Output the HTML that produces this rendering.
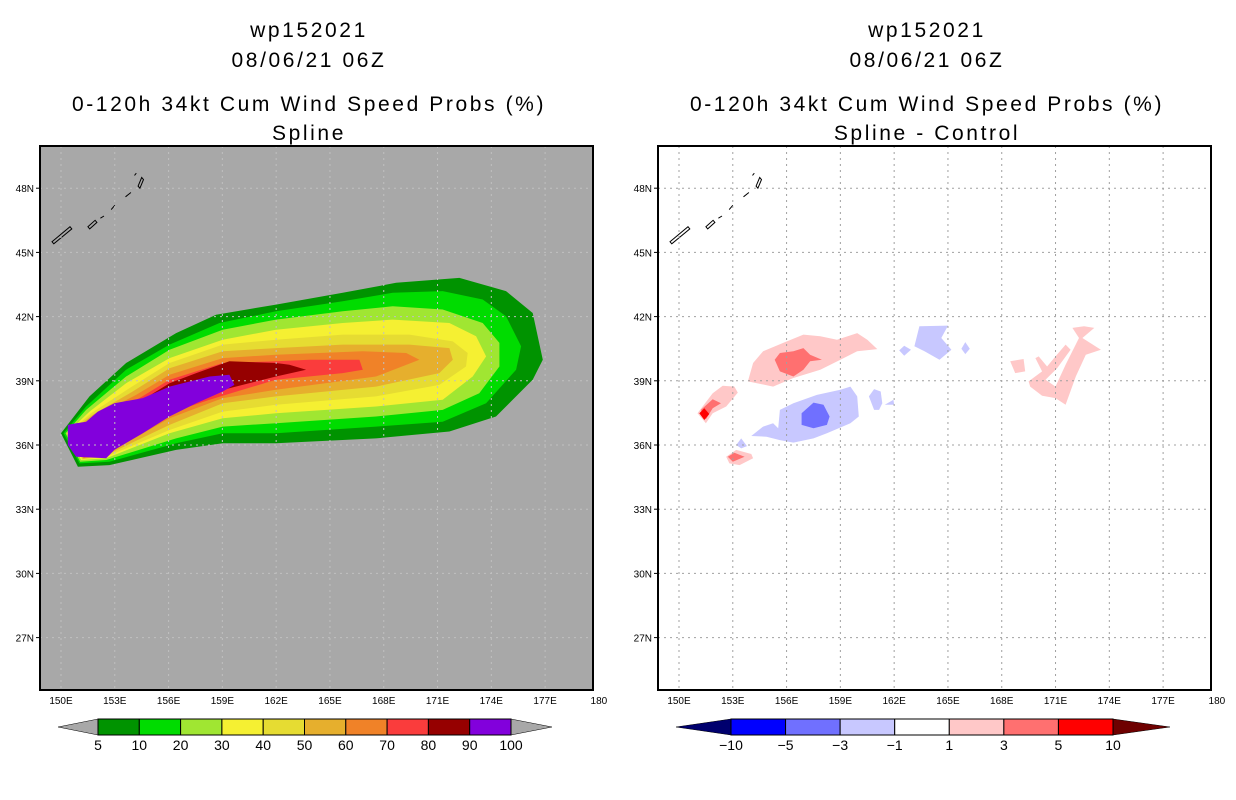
<!DOCTYPE html>
<html><head><meta charset="utf-8"><style>
html,body{margin:0;padding:0;background:#fff;}
svg{display:block;font-family:"Liberation Sans",sans-serif;}
.t{font-size:21px;letter-spacing:2.6px;fill:#000;text-anchor:middle;}
.tk{font-size:10px;fill:#000;}
.cb{font-size:14px;fill:#000;text-anchor:middle;}
</style></head><body>
<svg id="s" width="1236" height="800" viewBox="0 0 1236 800">
<g>
<text class="t" x="309" y="37">wp152021</text>
<text class="t" x="309" y="67">08/06/21 06Z</text>
<text class="t" x="309" y="111">0-120h 34kt Cum Wind Speed Probs (%)</text>
<text class="t" x="309" y="140">Spline</text>
</g>
<g>
<text class="t" x="927" y="37">wp152021</text>
<text class="t" x="927" y="67">08/06/21 06Z</text>
<text class="t" x="927" y="111">0-120h 34kt Cum Wind Speed Probs (%)</text>
<text class="t" x="927" y="140">Spline - Control</text>
</g>
<g id="L"></g>
<g id="R"></g>
<g id="CB"></g>
</svg>
<script>
// axis ticks
const lonTicks=[150,153,156,159,162,165,168,171,174,177,180];
const lonLabels=["150E","153E","156E","159E","162E","165E","168E","171E","174E","177E","180"];
const latTicks=[27,30,33,36,39,42,45,48];
const latLabels=["27N","30N","33N","36N","39N","42N","45N","48N"];
// probability band levels and colors
const probLevels=[5,10,20,30,40,50,60,70,80,90,100];
const probColors=["#009300","#00dc00","#a0e632","#f5f032","#e6dc32","#e6af2d","#f08228","#fa3c3c","#960000","#8200dc"];
// contour polygons [lon,lat] for each probability band (>=5, >=10, ... >=90)
const band5=[[150.0,36.55],[150.94,34.98],[152.7,35.06],[156.42,35.77],[159.02,36.08],[161.99,36.08],[167.57,36.31],[171.66,36.63],[174.26,37.33],[176.31,39.05],[176.87,39.98],[176.31,42.17],[174.82,43.19],[172.22,43.81],[168.69,43.58],[165.71,43.11],[161.99,42.56],[158.65,42.09],[156.42,41.23],[153.63,39.83],[151.59,38.27]];
const band10=[[150.14,36.55],[151.03,35.14],[152.7,35.22],[156.42,36.08],[159.02,36.55],[161.99,36.55],[167.57,36.86],[171.29,37.09],[173.71,37.95],[175.38,39.52],[175.66,40.61],[174.82,42.02],[173.52,42.8],[171.29,43.19],[168.5,43.11],[165.71,42.72],[161.99,42.25],[158.84,41.7],[156.05,40.69],[153.63,39.52],[151.4,37.8]];
const band20=[[150.25,36.55],[151.07,35.22],[152.52,35.3],[156.42,36.31],[159.02,36.86],[161.99,37.02],[167.57,37.33],[171.29,37.64],[173.33,38.42],[174.45,39.67],[174.45,40.77],[173.52,41.7],[171.29,42.33],[168.5,42.48],[165.71,42.25],[161.99,41.86],[159.02,41.39],[156.05,40.45],[153.63,39.2],[151.4,37.64]];
const band30=[[150.32,36.55],[151.12,35.3],[152.52,35.38],[156.05,36.55],[159.02,37.25],[161.99,37.48],[167.57,37.8],[171.29,38.11],[172.96,39.2],[173.71,40.14],[173.15,41.08],[171.66,41.7],[168.5,41.86],[165.71,41.7],[161.99,41.39],[159.02,40.92],[156.05,40.06],[153.63,38.89],[151.59,37.56]];
const band40=[[150.38,36.55],[151.18,35.33],[152.52,35.45],[156.05,36.7],[159.02,37.56],[161.99,37.88],[167.57,38.27],[171.1,38.81],[172.59,39.67],[172.68,40.3],[171.85,40.84],[169.43,41.16],[165.71,41.16],[161.99,40.92],[159.02,40.69],[156.05,39.83],[153.82,38.66],[151.68,37.48]];
const band50=[[150.43,36.55],[151.22,35.36],[152.52,35.53],[156.05,36.94],[159.02,37.95],[161.99,38.27],[167.57,38.73],[171.1,39.36],[171.85,39.98],[171.66,40.53],[169.43,40.69],[165.71,40.69],[161.99,40.53],[159.02,40.38],[156.05,39.59],[154.0,38.5],[151.77,37.41]];
const band60=[[150.47,36.55],[151.25,35.39],[152.61,35.61],[156.05,37.25],[159.02,38.19],[161.99,38.58],[167.57,39.2],[169.99,39.98],[169.25,40.3],[166.83,40.38],[161.99,40.22],[159.02,40.06],[156.05,39.28],[154.19,38.34],[151.87,37.33]];
const band70=[[150.5,36.55],[151.29,35.42],[152.7,35.69],[156.05,37.48],[158.28,38.11],[161.99,39.05],[165.71,39.36],[166.83,39.52],[166.64,39.98],[163.86,39.98],[161.99,39.91],[159.02,39.83],[156.05,39.05],[154.38,38.19],[151.96,37.25]];
const band80=[[150.57,36.55],[151.35,35.45],[152.8,35.77],[156.05,37.8],[158.28,38.42],[161.99,39.2],[163.67,39.52],[162.74,39.75],[161.99,39.83],[159.39,39.91],[157.54,39.36],[156.05,38.89],[154.56,38.11],[152.05,37.17]];
const band90=[[150.38,36.94],[150.38,36.0],[150.84,35.45],[152.52,35.38],[152.98,35.77],[154.56,36.55],[156.05,37.33],[157.54,37.95],[159.02,38.5],[159.67,38.81],[159.39,39.28],[158.28,39.2],[156.05,38.73],[154.56,38.19],[152.98,37.95],[152.05,37.56],[151.4,37.09],[150.84,37.02]];
const probBands=[band5,band10,band20,band30,band40,band50,band60,band70,band80,band90];
// difference (Spline - Control) blobs: [class, polygon]
const diffLevels=[-10,-5,-3,-1,1,3,5,10];
const diffColors=["#0000ff","#7070ff","#c8c8ff","#ffffff","#ffc8c8","#ff7070","#ff0000"];
const diffBlobs=[
 [4,[[153.84,38.97],[154.13,39.83],[154.69,40.38],[155.81,40.77],[156.94,41.16],[157.88,41.08],[158.81,40.92],[159.94,41.23],[160.5,40.92],[161.06,40.48],[159.94,40.38],[159.0,39.98],[157.88,39.52],[156.38,39.13],[155.25,38.73]]],
 [5,[[155.34,39.98],[155.63,40.3],[156.38,40.38],[156.94,40.53],[157.31,40.22],[157.97,39.98],[157.31,39.91],[156.94,39.52],[156.38,39.2],[155.63,39.44]]],
 [2,[[154.03,36.42],[154.69,36.86],[155.25,37.02],[155.53,36.78],[155.63,37.64],[156.38,37.95],[157.69,38.34],[159.0,38.58],[159.56,38.73],[159.94,38.27],[160.03,37.33],[159.56,37.02],[158.25,36.55],[157.5,36.31],[156.38,36.11],[155.63,36.23],[154.88,36.39]]],
 [1,[[156.84,37.48],[157.5,37.98],[158.06,37.88],[158.4,37.33],[158.25,36.94],[157.5,36.78],[156.84,36.94]]],
 [4,[[151.03,37.48],[151.88,38.42],[152.44,38.77],[153.09,38.73],[153.28,38.45],[152.63,37.8],[151.88,37.48],[151.5,37.02]]],
 [5,[[151.22,37.64],[151.88,38.14],[152.34,37.95],[151.88,37.72],[151.5,37.2]]],
 [6,[[151.13,37.48],[151.41,37.72],[151.69,37.45],[151.41,37.17]]],
 [4,[[152.63,35.45],[153.19,35.77],[154.03,35.58],[154.13,35.38],[153.38,35.06],[152.81,35.14]]],
 [5,[[152.72,35.45],[153.09,35.64],[153.66,35.45],[153.0,35.22]]],
 [2,[[153.19,36.0],[153.47,36.31],[153.79,35.95],[153.47,35.84]]],
 [2,[[163.13,40.61],[163.41,41.55],[165.0,41.58],[164.63,41.0],[165.19,40.45],[164.53,39.98],[163.69,40.38]]],
 [2,[[162.28,40.42],[162.56,40.64],[162.94,40.45],[162.56,40.17]]],
 [2,[[165.75,40.5],[165.97,40.81],[166.22,40.5],[165.97,40.25]]],
 [2,[[160.59,38.27],[160.88,38.61],[161.25,38.5],[161.34,37.95],[161.16,37.64],[160.88,37.64]]],
 [2,[[161.48,37.88],[161.96,38.11],[162.0,37.88]]],
 [4,[[168.47,39.91],[169.22,40.02],[169.31,39.44],[168.75,39.36]]],
 [4,[[169.5,38.97],[170.25,39.44],[169.88,40.06],[170.06,40.14],[170.53,39.67],[171.0,40.14],[171.56,40.69],[171.84,40.45],[171.09,39.59],[170.44,39.05],[171.0,38.73],[171.56,39.75],[172.31,41.0],[171.94,41.47],[172.59,41.55],[173.16,41.47],[172.5,41.0],[173.53,40.45],[172.69,40.22],[172.13,39.2],[171.56,37.88],[171.0,38.19],[170.25,38.3],[169.59,38.73]]]
];
const NS='http://www.w3.org/2000/svg';
function mk(tag,attrs,parent){const e=document.createElementNS(NS,tag);for(const k in attrs)e.setAttribute(k,attrs[k]);parent.appendChild(e);return e;}
const X0=40,X1=593,Y0=146,Y1=690;
function xs(lon,off){return 61+(lon-150)*17.93+off;}
function ys(lat){return 445-(lat-36)*21.4;}
function poly(p,off){return p.map(q=>xs(q[0],off).toFixed(1)+','+ys(q[1]).toFixed(1)).join(' ');}
function panel(g,off,bg){
  const cid='clip'+off;
  const cp=mk('clipPath',{id:cid},g);mk('rect',{x:X0+off,y:Y0,width:X1-X0,height:Y1-Y0},cp);
  const bgR=mk('rect',{x:X0+off,y:Y0,width:X1-X0,height:Y1-Y0,fill:bg},g);
  
  
  return mk('g',{'clip-path':'url(#'+cid+')'},g);
}
function grid(inner,g,off,col){
  lonTicks.forEach((lon,i)=>{
    if(lon<180){const l=mk('line',{x1:xs(lon,off),x2:xs(lon,off),y1:Y0,y2:Y1,stroke:col,'stroke-width':1,'stroke-dasharray':'2,4'},inner);
    
    }
    const t=mk('text',{class:'tk',x:xs(lon,off),y:Y1+14,'text-anchor':'middle'},g);
    t.textContent=lonLabels[i];
    
    
  });
  latTicks.forEach((lat,i)=>{
    const l=mk('line',{x1:X0+off,x2:X1+off,y1:ys(lat),y2:ys(lat),stroke:col,'stroke-width':1,'stroke-dasharray':'2,4'},inner);
    
    
    mk('line',{x1:X0+off-4,x2:X0+off,y1:ys(lat),y2:ys(lat),stroke:'#000'},g);
    const t=mk('text',{class:'tk',x:X0+off-6,y:ys(lat)+4,'text-anchor':'end'},g);
    t.textContent=latLabels[i];
    
    
  });
}
function islands(inner,off){
  const isl=[[[149.5,45.5],[150.5,46.2],[150.6,46.1],[149.6,45.4]],[[151.5,46.2],[151.9,46.5],[152.0,46.4],[151.6,46.1]],[[152.2,46.6],[152.4,46.7]],[[152.8,47.0],[153.0,47.2]],[[153.6,47.6],[153.9,47.8]],[[154.3,48.1],[154.5,48.5],[154.6,48.4],[154.4,48.0]],[[154.1,48.6],[154.2,48.7]]];
  isl.forEach(p=>{const e=mk('polygon',{points:poly(p,off),fill:'none',stroke:'#000','stroke-width':1},inner);
  
  });
}
// Left panel
const L=document.getElementById('L');
const li=panel(L,0,'#a8a8a8');
probBands.forEach((b,i)=>{const e=mk('polygon',{points:poly(b,0),fill:probColors[i]},li);
 
 });
islands(li,0);
grid(li,L,0,'#c0c0c0');
mk('rect',{x:X0,y:Y0,width:X1-X0,height:Y1-Y0,fill:'none',stroke:'#000','stroke-width':2},L);
// Right panel
const R=document.getElementById('R');const OFF=618;
const ri=panel(R,OFF,'#ffffff');
diffBlobs.forEach(b=>{const e=mk('polygon',{points:poly(b[1],OFF),fill:diffColors[b[0]]},ri);
 
 });
islands(ri,OFF);
grid(ri,R,OFF,'#a0a0a0');
mk('rect',{x:X0+OFF,y:Y0,width:X1-X0,height:Y1-Y0,fill:'none',stroke:'#000','stroke-width':2},R);
// Colorbars
const CB=document.getElementById('CB');
function cbar(x0,x1,tl,tr,cols,labels,lc,rc){
  const w=(x1-x0)/cols.length;
  const a=mk('polygon',{points:`${tl},727 ${x0},719 ${x0},735`,fill:lc,stroke:'#000','stroke-width':0.5},CB);
  
  
  const b=mk('polygon',{points:`${tr},727 ${x1},719 ${x1},735`,fill:rc,stroke:'#000','stroke-width':0.5},CB);
  
  
  cols.forEach((c,i)=>{const r=mk('rect',{x:x0+i*w,y:719,width:w,height:16,fill:c,stroke:'#000','stroke-width':1},CB);
   
   });
  labels.forEach((l,i)=>{const t=mk('text',{class:'cb',x:x0+i*w,y:750},CB);t.textContent=String(l).replace('-','\u2212');
   
   });
}
cbar(98,511,58,552,probColors,probLevels,'#a8a8a8','#a8a8a8');
cbar(731,1113,676,1170,diffColors,diffLevels,'#00006e','#6e0000');
</script>
</body></html>
